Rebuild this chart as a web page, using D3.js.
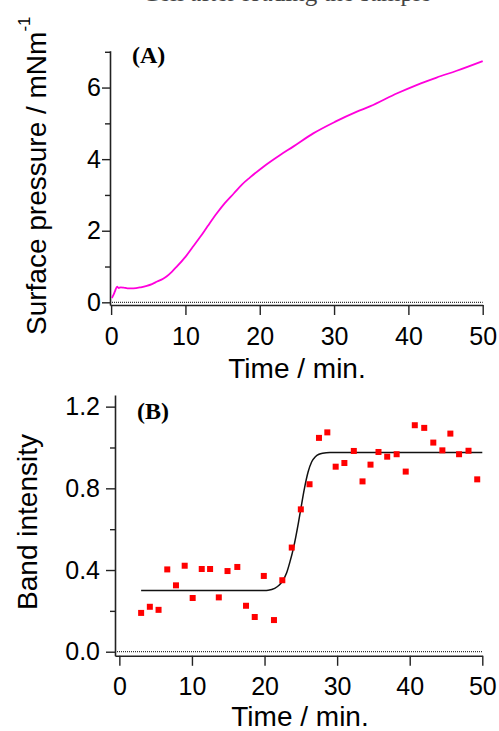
<!DOCTYPE html>
<html>
<head>
<meta charset="utf-8">
<script src="https://cdn.jsdelivr.net/npm/d3@7"></script>
<style>
    body { margin: 0; background: #fff; }
    svg { display: block; }
    .tick text { font-family: 'Liberation Sans', Arial, sans-serif; font-size: 25px; fill: #000; }
</style>
</head>
<body>
<div id="chart"></div>
<script>
// panel A: surface pressure trace
var pressureTime = [0.1, 0.3, 0.5, 0.8, 1.0, 1.3, 1.7, 2.2, 3.0, 4.0, 4.8, 5.5, 6.2, 7.0, 7.5, 8.2, 8.8,
    10.0, 11.0, 12.0, 13.0, 14.2, 15.3, 16.5, 17.6, 18.7, 20.5, 22.7, 24.5, 27.2, 30.1, 33.0, 34.9,
    38.5, 41.1, 43.8, 46.5, 50.0];
var pressureValue = [0.12, 0.2, 0.3, 0.44, 0.40, 0.42, 0.41, 0.39, 0.39, 0.42, 0.46, 0.51, 0.58, 0.66, 0.73, 0.86, 0.99,
    1.27, 1.55, 1.83, 2.13, 2.48, 2.77, 3.04, 3.29, 3.49, 3.79, 4.11, 4.35, 4.72, 5.04, 5.32, 5.48,
    5.84, 6.07, 6.28, 6.47, 6.74];

// panel B: band intensity points
var bandTime = [3.0, 4.2, 5.4, 6.6, 7.8, 9.0, 10.1, 11.35, 12.5, 13.7, 14.9, 16.25, 17.45, 18.65, 19.9,
    21.3, 22.45, 23.75, 25.0, 26.2, 27.5, 28.65, 29.8, 31.0, 32.3, 33.5, 34.6, 35.7, 36.9, 38.2,
    39.45, 40.7, 42.0, 43.25, 44.5, 45.6, 46.8, 48.1, 49.3];
var bandValue = [0.19, 0.22, 0.205, 0.403, 0.325, 0.421, 0.263, 0.405, 0.405, 0.266, 0.395, 0.415, 0.225, 0.17, 0.371,
    0.155, 0.35, 0.51, 0.697, 0.82, 1.047, 1.074, 0.906, 0.924, 0.983, 0.834, 0.916, 0.978, 0.955, 0.967,
    0.882, 1.109, 1.096, 1.024, 0.986, 1.068, 0.967, 0.984, 0.844];

// panel B: fitted curve
var fitTime = [3, 20, 20.5, 21.4, 22, 22.45, 23.05, 23.5, 24.0, 24.66, 25.0, 25.5, 26.0, 26.5, 27.0, 27.5, 28.0, 29, 50];
var fitValue = [0.30, 0.30, 0.301, 0.31, 0.325, 0.345, 0.387, 0.44, 0.51, 0.63, 0.70, 0.80, 0.88, 0.93, 0.955, 0.967, 0.972, 0.975, 0.975];

var timeTicks = [0, 10, 20, 30, 40, 50];
var pressureTicks = [0, 2, 4, 6];
var pressureMinor = [1, 3, 5, 7];
var bandTicks = [0, 0.4, 0.8, 1.2];
var bandMinor = [0.2, 0.6, 1.0];

var svg = d3.select('#chart').append('svg')
    .attr('width', 499)
    .attr('height', 731);

// cropped caption at the very top
svg.append('text')
    .attr('x', 431)
    .attr('y', 1)
    .attr('text-anchor', 'end')
    .style('font-family', "'Liberation Serif', 'Times New Roman', serif")
    .style('font-size', '25px')
    .style('fill', '#444')
    .text('Cell after loading the sample');

var drawAxes = function (g, x, y, opts) {
    var bottom = y.range()[0];
    var left = x.range()[0];

    // zero reference line
    g.append('line')
        .attr('x1', left)
        .attr('x2', x.range()[1])
        .attr('y1', y(0))
        .attr('y2', y(0))
        .style('stroke', '#333')
        .style('stroke-width', 1.2)
        .style('stroke-dasharray', '1,1');

    var xAxis = g.append('g')
        .attr('transform', 'translate(0,' + bottom + ')')
        .call(d3.axisBottom(x).tickValues(timeTicks).tickSize(10).tickSizeOuter(0).tickPadding(opts.xPad));

    var yAxis = g.append('g')
        .attr('transform', 'translate(' + left + ',0)')
        .call(d3.axisLeft(y).tickValues(opts.yTicks).tickSize(opts.yTick).tickSizeOuter(0)
            .tickPadding(opts.yPad).tickFormat(opts.yFormat));

    var yMinor = g.append('g')
        .attr('transform', 'translate(' + left + ',0)')
        .call(d3.axisLeft(y).tickValues(opts.yMinor).tickSize(5).tickFormat(''));
    yMinor.select('.domain').remove();

    [xAxis, yAxis, yMinor].forEach(function (a) {
        a.selectAll('.domain').style('stroke', '#222').style('stroke-width', 1.6);
        a.selectAll('.tick line').style('stroke', '#222').style('stroke-width', 1.4);
    });

    g.append('text')
        .attr('x', opts.titleX)
        .attr('y', opts.titleY)
        .attr('text-anchor', 'middle')
        .style('font-family', "'Liberation Sans', Arial, sans-serif")
        .style('font-size', '28px')
        .text('Time / min.');

    g.append('text')
        .attr('x', left + 22)
        .attr('y', opts.letterY)
        .style('font-family', "'Liberation Serif', 'Times New Roman', serif")
        .style('font-weight', 'bold')
        .style('font-size', '24px')
        .text(opts.letter);
};

// ---- panel A
var xA = d3.scaleLinear().domain([-0.15, 50]).range([110, 482.7]),
    yA = d3.scaleLinear().domain([-0.075, 7.03]).range([305, 50.7]),
    gA = svg.append('g');

drawAxes(gA, xA, yA, {
    xPad: 12, yTicks: pressureTicks, yMinor: pressureMinor, yTick: 8, yPad: 1,
    yFormat: d3.format('d'), titleX: 297, titleY: 378, letter: '(A)', letterY: 63
});

gA.append('path')
    .datum(d3.range(pressureTime.length))
    .attr('d', d3.line()
        .x(function (i) { return xA(pressureTime[i]); })
        .y(function (i) { return yA(pressureValue[i]); })
        .curve(d3.curveMonotoneX))
    .style('fill', 'none')
    .style('stroke', '#ff00dc')
    .style('stroke-width', 1.8);

var labelA = gA.append('text')
    .attr('transform', 'translate(46,335) rotate(-90)')
    .style('font-family', "'Liberation Sans', Arial, sans-serif")
    .style('font-size', '28px');
labelA.append('tspan').text('Surface pressure / mNm');
labelA.append('tspan').attr('dy', -16).style('font-size', '17px').text('-1');

// ---- panel B
var xB = d3.scaleLinear().domain([-0.6, 50]).range([115, 482.3]),
    yB = d3.scaleLinear().domain([-0.02, 1.257]).range([655.8, 395]),
    gB = svg.append('g');

drawAxes(gB, xB, yB, {
    xPad: 11, yTicks: bandTicks, yMinor: bandMinor, yTick: 9, yPad: 6,
    yFormat: d3.format('.1f'), titleX: 300, titleY: 726, letter: '(B)', letterY: 419
});

gB.append('path')
    .datum(d3.range(fitTime.length))
    .attr('d', d3.line()
        .x(function (i) { return xB(fitTime[i]); })
        .y(function (i) { return yB(fitValue[i]); })
        .curve(d3.curveMonotoneX))
    .style('fill', 'none')
    .style('stroke', '#111')
    .style('stroke-width', 1.5);

gB.selectAll('.pt')
    .data(d3.range(bandTime.length))
    .enter().append('rect')
    .attr('class', 'pt')
    .attr('x', function (i) { return xB(bandTime[i]) - 3; })
    .attr('y', function (i) { return yB(bandValue[i]) - 3; })
    .attr('width', 6)
    .attr('height', 6)
    .style('fill', '#ff0000');

gB.append('text')
    .attr('transform', 'translate(37,522) rotate(-90)')
    .attr('text-anchor', 'middle')
    .style('font-family', "'Liberation Sans', Arial, sans-serif")
    .style('font-size', '28px')
    .text('Band intensity');
</script>
</body>
</html>
